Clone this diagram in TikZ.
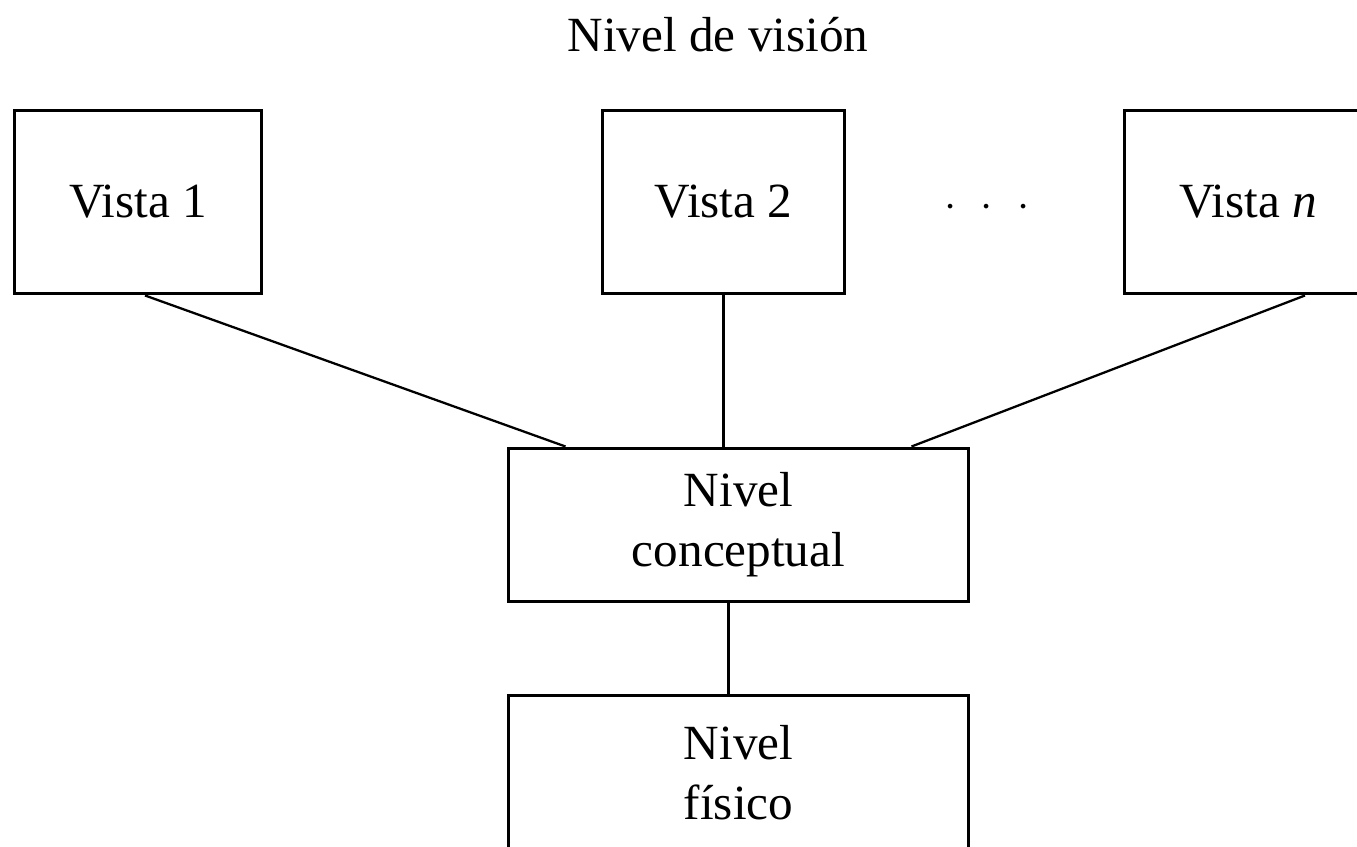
\documentclass[tikz,border=0pt]{standalone}
\usepackage{fontspec}
\setmainfont{Liberation Serif}
\usetikzlibrary{calc}

\begin{document}
\begin{tikzpicture}[
    % Unidades en pixeles de la figura (y hacia abajo)
    x=0.02cm, y=-0.02cm,
    caja/.style={draw, line width=1.7pt, fill=white, align=center,
        font=\fontsize{28}{34}\selectfont, inner sep=0pt},
    vista/.style={caja, minimum width=4.96cm, minimum height=3.68cm},
    nivel/.style={caja, minimum width=9.22cm, minimum height=3.08cm},
    enlace/.style={line width=1.3pt}
]
    \useasboundingbox (0,0) rectangle (1357,847);
    \clip (0,0) rectangle (1357,847);

    % ==========================================
    % 1. NIVEL DE VISION (arriba)
    % ==========================================
    \node[font=\fontsize{28}{34}\selectfont] (titulo) at (718,35) {Nivel de visión};

    \node[vista] (v1) at (138,202) {Vista 1};
    \node[vista, minimum width=4.86cm] (v2) at (723.5,202) {Vista 2};
    \node[vista] (vn) at (1248,202) {Vista \textit{n}};
    \node[font=\fontsize{40}{40}\selectfont] (puntos) at (987,208) {$\cdot$\kern0.35em$\cdot$\kern0.35em$\cdot$};

    % ==========================================
    % 2. NIVEL CONCEPTUAL Y NIVEL FISICO
    % ==========================================
    \node[nivel] (conc) at (738.5,525) {Nivel\\conceptual};
    \node[nivel, anchor=north] (fis) at (738.5,694) {Nivel\\físico};

    % Lineas de union
    \draw[enlace] ($(v1.south)+(7,0)$) -- ($(conc.north)+(-173,0)$);
    \draw[enlace] (v2.south) -- (v2.south |- conc.north);
    \draw[enlace] ($(vn.south)+(57,0)$) -- ($(conc.north)+(173,0)$);
    \draw[enlace] ($(conc.south)+(-10,0)$) -- ($(fis.north)+(-10,0)$);

\end{tikzpicture}
\end{document}
